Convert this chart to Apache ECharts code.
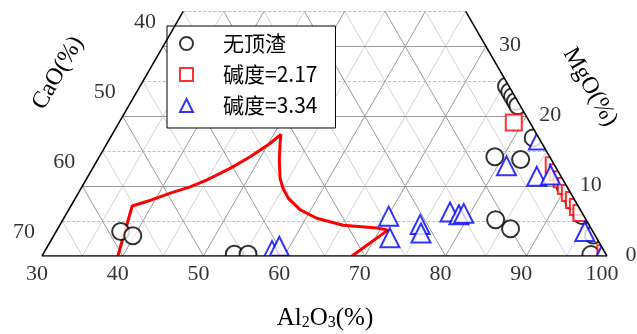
<!DOCTYPE html>
<html>
<head>
<meta charset="utf-8">
<script src="https://cdn.jsdelivr.net/npm/echarts@6/dist/echarts.min.js"></script>
<style>html,body{margin:0;padding:0;background:#fff}#c{width:637px;height:334px}</style>
</head>
<body>
<div id="c"></div>
<script>
// ---- data (ternary: Al2O3 + CaO + MgO = 100) ----
const al2o3Ticks = [30, 40, 50, 60, 70, 80, 90, 100];
const caoTicks = [70, 60, 50, 40];
const mgoTicks = [0, 10, 20, 30];

const seriesNames = ['无顶渣', '碱度=2.17', '碱度=3.34'];

const noSlagAl = [38.0, 39.8, 53.7, 55.4, 75.4, 76.2, 76.9, 77.6, 78.2, 82.4, 79.0, 82.4, 83.6, 86.1, 97.9, 96.8, 89.8, 92.0, 94.0];
const noSlagMg = [3.5, 2.9, 0.25, 0.25, 24.3, 23.5, 22.8, 22.1, 21.5, 16.9, 14.2, 13.8, 5.2, 3.9, 0.2, 3.0, 10.0, 7.8, 5.8];

const b217Al = [78.9, 86.9, 87.9, 88.9, 89.9, 90.9, 91.9, 92.9, 93.75, 99.6];
const b217Mg = [19.1, 13.0, 12.0, 11.0, 10.0, 9.0, 8.0, 7.0, 6.15, 0.4];

const b334Al = [70.1, 71.8, 74.6, 75.3, 77.4, 78.7, 79.2, 58.1, 58.7, 81.1, 85.6, 87.2, 83.2, 95.5, 99.3];
const b334Mg = [5.7, 2.6, 4.5, 3.3, 6.3, 5.9, 6.1, 0.8, 1.4, 12.9, 11.4, 11.6, 16.6, 3.5, 0.2];

const curveAl = [39.4, 37.6, 39.3, 41.4, 43.4, 45.0, 47.0, 48.7, 50.2, 50.9, 51.45, 52.55, 53.95, 55.0, 56.4, 58.7, 61.35, 65.1, 69.5, 71.0, 68.4];
const curveMg = [0, 7.15, 7.9, 9.0, 9.9, 10.9, 12.5, 14.2, 16.1, 17.4, 16.1, 13.7, 11.1, 9.7, 8.25, 6.6, 5.4, 4.4, 4.0, 3.7, 0];

// ---- ternary -> cartesian (x in Al units, y in MgO units) ----
const MGMAX = 35;
function tp(al, mg) { return [al + mg / 2, mg]; }
function pts(al, mg) { return al.map((a, i) => tp(a, mg[i])); }

const solidLines = [], dashedH = [], lightDiag = [];
for (let m = 5; m <= 35; m += 5) {
  const seg = { coords: [[30 + m / 2, m], [100 - m / 2, m]] };
  (m % 10 === 0 ? solidLines : dashedH).push(seg);
}
for (let a = 35; a <= 95; a += 5) {
  const top = Math.min(MGMAX, 100 - a);
  const seg = { coords: [tp(a, 0), tp(a, top)] };
  (a % 10 === 0 ? solidLines : lightDiag).push(seg);
}
for (let c = 5; c <= 65; c += 5) {
  const top = Math.min(MGMAX, 70 - c);
  const seg = { coords: [tp(100 - c, 0), tp(100 - c - top, top)] };
  (c % 10 === 0 ? solidLines : lightDiag).push(seg);
}
const edges = [
  { coords: [tp(30, 0), tp(100, 0)] },
  { coords: [tp(30, 0), tp(30, MGMAX)] },
  { coords: [tp(100, 0), tp(100 - MGMAX, MGMAX)] }
];

const serif = 'Liberation Serif, Times New Roman, serif';
const tickFont = { fontFamily: serif, fontSize: 22, color: '#000' };

const bottomLabels = al2o3Ticks.map(a => [a, 0, a]);
const leftLabels = caoTicks.map(c => { const p = tp(30, 70 - c); return [p[0], p[1], c]; });
const rightLabels = mgoTicks.map(m => { const p = tp(100 - m, m); return [p[0], p[1], m]; });

function labelSeries(data, off) {
  return {
    type: 'scatter', data: data, symbol: 'circle', symbolSize: 1, z: 6, clip: false, silent: true,
    itemStyle: { color: 'rgba(0,0,0,0)' },
    label: { show: true, position: 'inside', offset: off, formatter: p => String(p.value[2]), ...tickFont }
  };
}

const chart = echarts.init(document.getElementById('c'), null, { renderer: 'canvas' });
chart.setOption({
  animation: false,
  grid: { left: 42, right: 30, top: 11.4, bottom: 78 },
  xAxis: { type: 'value', min: 30, max: 100, show: false },
  yAxis: { type: 'value', min: 0, max: MGMAX, show: false },
  legend: {
    data: seriesNames, orient: 'vertical', left: 167, top: 26,
    itemWidth: 13, itemHeight: 13, itemGap: 10,
    padding: [7, 18, 12, 12],
    borderColor: '#000', borderWidth: 1, backgroundColor: '#fff',
    textStyle: { fontFamily: 'Noto Sans CJK SC', fontSize: 21, color: '#000', padding: [0, 0, 0, 25] }
  },
  series: [
    { type: 'lines', coordinateSystem: 'cartesian2d', data: lightDiag, z: 1, silent: true,
      lineStyle: { color: '#d2d2d2', width: 1, opacity: 1 } },
    { type: 'lines', coordinateSystem: 'cartesian2d', data: dashedH, z: 1, silent: true,
      lineStyle: { color: '#bdbdbd', width: 1, type: [3, 2], opacity: 1 } },
    { type: 'lines', coordinateSystem: 'cartesian2d', data: solidLines, z: 1, silent: true,
      lineStyle: { color: '#9a9a9a', width: 1, opacity: 1 } },
    { type: 'line', data: pts(curveAl, curveMg), z: 2, symbol: 'none', silent: true,
      lineStyle: { color: '#ff0000', width: 3 } },
    { name: seriesNames[0], type: 'scatter', data: pts(noSlagAl, noSlagMg), z: 2, clip: true,
      symbol: 'emptyCircle', symbolSize: 17, itemStyle: { color: '#000', borderWidth: 2 } },
    { name: seriesNames[1], type: 'scatter', data: pts(b217Al, b217Mg), z: 2, clip: true,
      symbol: 'emptyRect', symbolSize: 16, itemStyle: { color: '#ff0000', borderWidth: 2 } },
    { name: seriesNames[2], type: 'scatter', data: pts(b334Al, b334Mg), z: 2, clip: true,
      symbol: 'emptyTriangle', symbolSize: 19, itemStyle: { color: '#0000ff', borderWidth: 2 } },
    { type: 'custom', z: 3, silent: true, data: [[0, 0]],
      renderItem: (params, api) => ({
        type: 'polygon',
        shape: { points: [api.coord([20, 0]), api.coord(tp(100, 0)), api.coord(tp(100 - MGMAX, MGMAX)),
                          api.coord([112, MGMAX]), api.coord([112, -4]), api.coord([20, -4])] },
        style: { fill: '#fff' }
      }) },
    { type: 'lines', coordinateSystem: 'cartesian2d', data: edges, z: 4, silent: true,
      lineStyle: { color: '#000', width: 1.5, opacity: 1 } },
    labelSeries(bottomLabels, [-5, 18]),
    labelSeries(leftLabels, [-18, -24]),
    labelSeries(rightLabels, [24, -1])
  ],
  graphic: [
    { type: 'text', x: 325, y: 317, z: 100,
      style: { text: '{a|Al}{s|2}{a|O}{s|3}{a|(%)}', align: 'center', verticalAlign: 'middle',
        rich: { a: { fontFamily: serif, fontSize: 25, color: '#000', verticalAlign: 'bottom', lineHeight: 28 },
                s: { fontFamily: serif, fontSize: 16, color: '#000', verticalAlign: 'bottom', lineHeight: 22 } } } },
    { type: 'text', x: 58, y: 73, z: 100, rotation: Math.PI / 3,
      style: { text: 'CaO(%)', align: 'center', verticalAlign: 'middle', fontFamily: serif, fontSize: 24, fill: '#000' } },
    { type: 'text', x: 590, y: 87, z: 100, rotation: -Math.PI / 3,
      style: { text: 'MgO(%)', align: 'center', verticalAlign: 'middle', fontFamily: serif, fontSize: 24, fill: '#000' } }
  ]
});
</script>
</body>
</html>
